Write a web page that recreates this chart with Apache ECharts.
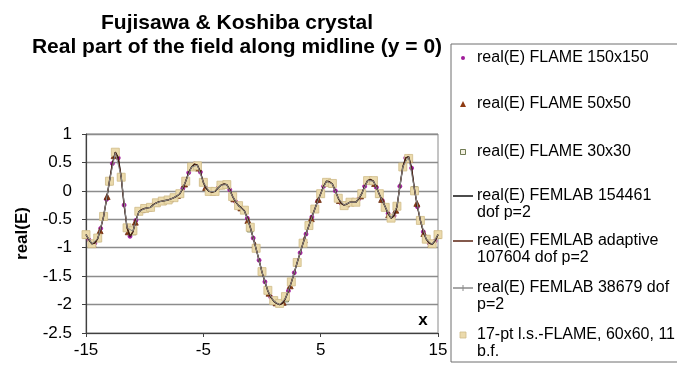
<!DOCTYPE html>
<html>
<head>
<meta charset="utf-8">
<script src="https://cdn.jsdelivr.net/npm/echarts@6/dist/echarts.min.js"></script>
<style>
  html, body { margin: 0; padding: 0; background: #ffffff; }
  #chart { width: 677px; height: 374px; }
</style>
</head>
<body>
<div id="chart"></div>
<script>
// ---- Field profile along the midline y = 0, x in [-15, 15] ----

// Sample spacing of each data set along x
const X_START = -15;
const STEP_FLAME150 = 0.25;   // fine FLAME grid (also used for the FEMLAB traces)
const STEP_FLAME50 = 0.6;
const STEP_FLAME30 = 1.0;
const STEP_FEMLAB38679 = 0.5;
const STEP_LSFLAME60 = 0.5;

// real(E) FLAME 150x150
const flame150 = [
  -0.77, -0.86, -0.93, -0.92, -0.84, -0.66, -0.45, -0.15, 0.17, 0.48,
  0.68, 0.58, 0.24, -0.25, -0.65, -0.80, -0.72, -0.52, -0.37, -0.33,
  -0.31, -0.30, -0.29, -0.24, -0.21, -0.19, -0.18, -0.17, -0.16, -0.14,
  -0.12, -0.09, -0.05, 0.04, 0.17, 0.32, 0.42, 0.47, 0.45, 0.33,
  0.15, 0.04, -0.01, -0.02, -0.01, 0.05, 0.10, 0.12, 0.11, 0.02,
  -0.10, -0.19, -0.26, -0.30, -0.35, -0.48, -0.64, -0.83, -1.02, -1.22,
  -1.43, -1.60, -1.76, -1.87, -1.94, -1.98, -2.00, -1.98, -1.89, -1.76,
  -1.61, -1.44, -1.26, -1.09, -0.92, -0.76, -0.61, -0.46, -0.32, -0.18,
  -0.05, 0.08, 0.17, 0.16, 0.12, 0.00, -0.13, -0.22, -0.25, -0.23,
  -0.20, -0.20, -0.20, -0.14, -0.05, 0.08, 0.18, 0.20, 0.17, 0.06,
  -0.06, -0.17, -0.28, -0.40, -0.48, -0.44, -0.28, 0.08, 0.42, 0.58,
  0.60, 0.40, 0.02, -0.28, -0.52, -0.72, -0.85, -0.92, -0.94, -0.88,
  -0.77
];

// real(E) FLAME 50x50
const flame50 = [
  -0.78, -0.94, -0.70, -0.10, 0.62, 0.24, -0.72, -0.55, -0.33, -0.30,
  -0.21, -0.18, -0.14, -0.08, 0.12, 0.42, 0.40, 0.06, -0.02, 0.09,
  0.11, -0.14, -0.30, -0.52, -0.95, -1.43, -1.80, -1.97, -1.96, -1.67,
  -1.26, -0.86, -0.49, -0.15, 0.14, 0.12, -0.17, -0.23, -0.20, -0.09,
  0.18, 0.13, -0.15, -0.42, -0.34, 0.42, 0.55, -0.22, -0.75, -0.94,
  -0.78
];

// real(E) FLAME 30x30
const flame30 = [
  -0.77, -0.84, 0.16, 0.24, -0.72, -0.31, -0.21, -0.16, -0.05, 0.42,
  0.15, -0.01, 0.11, -0.26, -0.67, -1.43, -1.93, -1.90, -1.27, -0.61,
  -0.05, 0.12, -0.25, -0.20, 0.18, -0.06, -0.48, 0.42, 0.02, -0.85,
  -0.77
];

// FEMLAB traces (indistinguishable at this scale)
const femlab154461 = flame150.slice();
const femlabAdaptive = flame150.slice();
const femlab38679 = [
  -0.77, -0.93, -0.84, -0.45, 0.17, 0.67, 0.25, -0.65, -0.71, -0.37,
  -0.31, -0.29, -0.21, -0.18, -0.16, -0.12, -0.05, 0.17, 0.42, 0.45,
  0.15, -0.01, -0.01, 0.10, 0.11, -0.10, -0.26, -0.35, -0.64, -1.02,
  -1.43, -1.76, -1.94, -2.00, -1.89, -1.61, -1.26, -0.92, -0.61, -0.32,
  -0.05, 0.17, 0.12, -0.13, -0.25, -0.20, -0.20, -0.05, 0.18, 0.17,
  -0.06, -0.28, -0.48, -0.28, 0.42, 0.60, 0.02, -0.52, -0.85, -0.94,
  -0.77
];

// 17-pt l.s.-FLAME, 60x60
const lsFlame60 = [
  -0.77, -0.93, -0.83, -0.45, 0.17, 0.68, 0.24, -0.65, -0.70, -0.36,
  -0.31, -0.29, -0.21, -0.18, -0.16, -0.12, -0.05, 0.17, 0.42, 0.44,
  0.15, -0.01, -0.01, 0.10, 0.11, -0.10, -0.26, -0.34, -0.64, -1.01,
  -1.42, -1.75, -1.93, -1.98, -1.86, -1.60, -1.26, -0.92, -0.61, -0.32,
  -0.05, 0.15, 0.13, -0.13, -0.26, -0.20, -0.20, -0.05, 0.18, 0.18,
  -0.05, -0.29, -0.48, -0.27, 0.42, 0.57, 0.00, -0.52, -0.85, -0.93,
  -0.77
];

const seriesNames = [
  'real(E) FLAME 150x150',
  'real(E) FLAME 50x50',
  'real(E) FLAME 30x30',
  'real(E) FEMLAB 154461 dof p=2',
  'real(E) FEMLAB adaptive 107604 dof p=2',
  'real(E) FEMLAB 38679 dof p=2',
  '17-pt l.s.-FLAME, 60x60, 11 b.f.'
];
// Legend text as wrapped in the legend box
const legendLabels = [
  'real(E) FLAME 150x150',
  'real(E) FLAME 50x50',
  'real(E) FLAME 30x30',
  'real(E) FEMLAB 154461\ndof p=2',
  'real(E) FEMLAB adaptive\n107604 dof p=2',
  'real(E) FEMLAB 38679 dof\np=2',
  '17-pt l.s.-FLAME, 60x60, 11\nb.f.'
];

const xTicks = [-15, -5, 5, 15];
const yTicks = [-2.5, -2, -1.5, -1, -0.5, 0, 0.5, 1];
const xAxisTitle = 'x';

const FONT = 'Arial, "Liberation Sans", sans-serif';

function withX(step, values) {
  return values.map((v, i) => [Math.round((X_START + i * step) * 1000) / 1000, v]);
}

const styles = [
  { type: 'scatter', symbol: 'circle', size: 4, color: '#a01c9a', border: '#a01c9a' },
  { type: 'scatter', symbol: 'triangle', size: 6, color: '#8e3b12', border: '#6a2a0c' },
  { type: 'scatter', symbol: 'rect', size: 6, color: '#f3f0e2', border: '#4d5a2c' },
  { type: 'line', color: '#111111', width: 1.4 },
  { type: 'line', color: '#5a2210', width: 1 },
  { type: 'line', color: '#8a8a8a', width: 1 },
  { type: 'scatter', symbol: 'rect', size: 8, color: '#ebdaac', border: '#cfbb88' }
];

const seriesData = [
  withX(STEP_FLAME150, flame150),
  withX(STEP_FLAME50, flame50),
  withX(STEP_FLAME30, flame30),
  withX(STEP_FLAME150, femlab154461),
  withX(STEP_FLAME150, femlabAdaptive),
  withX(STEP_FEMLAB38679, femlab38679),
  withX(STEP_LSFLAME60, lsFlame60)
];

const series = seriesNames.map((name, i) => {
  const s = styles[i];
  if (s.type === 'line') {
    return {
      name, type: 'line', data: seriesData[i], showSymbol: false, symbol: 'none',
      lineStyle: { color: s.color, width: s.width }, itemStyle: { color: s.color },
      silent: true
    };
  }
  return {
    name, type: 'scatter', data: seriesData[i], symbol: s.symbol, symbolSize: s.size,
    itemStyle: { color: s.color, borderColor: s.border, borderWidth: 0.8, opacity: 1 },
    silent: true
  };
});

// Legend box drawn as graphic elements
const LEG = { x: 451, y: 44, w: 260, h: 318, iconX: 463, textX: 477, rowY: [58, 104, 152, 196, 241, 288, 335] };
const legendEls = [{
  type: 'rect', shape: { x: LEG.x, y: LEG.y, width: LEG.w, height: LEG.h },
  style: { fill: '#ffffff', stroke: '#6e6e6e', lineWidth: 1 }, z: 10
}];
legendLabels.forEach((label, i) => {
  const s = styles[i];
  const cy = LEG.rowY[i];
  if (s.type === 'line') {
    legendEls.push({
      type: 'line', shape: { x1: LEG.iconX - 10, y1: cy, x2: LEG.iconX + 10, y2: cy },
      style: { stroke: s.color, lineWidth: 1.5 }, z: 11
    });
    if (i === 5) {
      legendEls.push({
        type: 'line', shape: { x1: LEG.iconX, y1: cy - 3, x2: LEG.iconX, y2: cy + 3 },
        style: { stroke: s.color, lineWidth: 1 }, z: 11
      });
    }
  } else if (s.symbol === 'circle') {
    legendEls.push({ type: 'circle', shape: { cx: LEG.iconX, cy, r: 2 }, style: { fill: s.color }, z: 11 });
  } else if (s.symbol === 'triangle') {
    legendEls.push({
      type: 'polygon', shape: { points: [[LEG.iconX, cy - 3], [LEG.iconX + 3, cy + 3], [LEG.iconX - 3, cy + 3]] },
      style: { fill: s.color }, z: 11
    });
  } else {
    const h = s.size === 8 ? 3 : 2.5;
    legendEls.push({
      type: 'rect', shape: { x: LEG.iconX - h, y: cy - h, width: 2 * h, height: 2 * h },
      style: { fill: s.color, stroke: s.border, lineWidth: 0.8 }, z: 11
    });
  }
  legendEls.push({
    type: 'text', x: LEG.textX, y: cy - 8.5, z: 11,
    style: { text: label, font: '16px ' + FONT, fill: '#000000', lineHeight: 17, textVerticalAlign: 'top' }
  });
});

const chart = echarts.init(document.getElementById('chart'), null, { renderer: 'canvas' });
chart.setOption({
  animation: false,
  backgroundColor: '#ffffff',
  title: {
    text: 'Fujisawa & Koshiba crystal\nReal part of the field along midline (y = 0)',
    left: 237, top: 11, padding: 0, textAlign: 'center',
    textStyle: { fontFamily: FONT, fontSize: 21, fontWeight: 'bold', color: '#000000', lineHeight: 24 }
  },
  grid: {
    left: 86, right: 239, top: 134, bottom: 41, containLabel: false,
    show: true, borderColor: '#8a8a8a', borderWidth: 1, backgroundColor: '#ffffff'
  },
  xAxis: {
    type: 'value', min: xTicks[0], max: xTicks[xTicks.length - 1], interval: 10,
    axisLine: { show: true, onZero: false, lineStyle: { color: '#404040', width: 1.2 } },
    axisTick: { show: true, inside: false, length: 4, lineStyle: { color: '#404040' } },
    axisLabel: { fontFamily: FONT, fontSize: 17, color: '#000000', margin: 9 },
    splitLine: { show: false }
  },
  yAxis: {
    type: 'value', min: yTicks[0], max: yTicks[yTicks.length - 1], interval: 0.5,
    name: 'real(E)', nameLocation: 'middle', nameGap: 55, nameRotate: 90,
    nameTextStyle: { fontFamily: FONT, fontSize: 17, fontWeight: 'bold', color: '#000' },
    axisLine: { show: true, onZero: false, lineStyle: { color: '#404040', width: 1.2 } },
    axisTick: { show: true, inside: false, length: 4, lineStyle: { color: '#404040' } },
    axisLabel: { fontFamily: FONT, fontSize: 17, color: '#000000', margin: 14 },
    splitLine: { show: true, lineStyle: { color: '#8c8c8c', width: 1.3 } }
  },
  series,
  graphic: legendEls.concat([{
    type: 'text', x: 423, y: 320, z: 5,
    style: { text: xAxisTitle, font: 'bold 17px ' + FONT, fill: '#000000', textAlign: 'center', textVerticalAlign: 'middle' }
  }])
});
</script>
</body>
</html>
